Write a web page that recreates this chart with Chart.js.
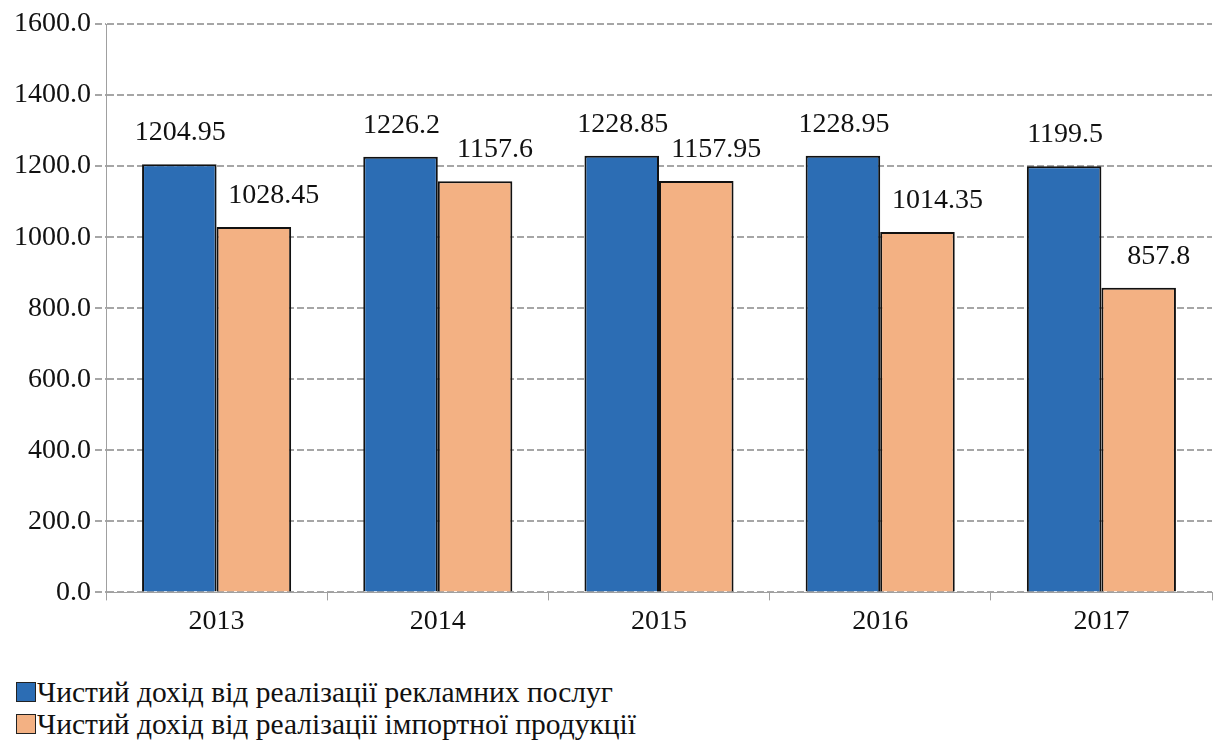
<!DOCTYPE html>
<html>
<head>
<meta charset="utf-8">
<script src="https://cdn.jsdelivr.net/npm/chart.js@4/dist/chart.umd.min.js"></script>
<style>
  body { margin: 0; background: #fff; font-family: "Liberation Serif", "Times New Roman", serif; }
  #wrap { position: relative; width: 1213px; height: 660px; }
  #legend { margin-left: 16px; margin-top: 16px; font-size: 29.5px; color: #111; line-height: 32px; }
  .item { display: flex; align-items: center; white-space: nowrap; }
  .box { width: 20px; height: 20px; border: 1.5px solid #222; margin-right: 1px; box-sizing: border-box; flex: none; }
</style>
</head>
<body>
<div id="wrap"><canvas id="chart"></canvas></div>
<div id="legend"></div>
<script>
// chart data
const years = ['2013', '2014', '2015', '2016', '2017'];
const adIncome = [1204.95, 1226.2, 1228.85, 1228.95, 1199.5];
const importIncome = [1028.45, 1157.6, 1157.95, 1014.35, 857.8];
const seriesNames = [
  'Чистий дохід від реалізації рекламних послуг',
  'Чистий дохід від реалізації імпортної продукції'
];
const colors = ['#2c6db4', '#f3b183'];
const serif = "'Liberation Serif', 'Times New Roman', serif";

// value labels above the bars
const valueLabels = {
  id: 'valueLabels',
  afterDatasetsDraw(chart) {
    const ctx = chart.ctx;
    ctx.save();
    ctx.font = '28px ' + serif;
    ctx.fillStyle = '#111';
    ctx.textAlign = 'center';
    ctx.textBaseline = 'alphabetic';
    chart.data.datasets.forEach((ds, i) => {
      chart.getDatasetMeta(i).data.forEach((bar, j) => {
        ctx.fillText(String(ds.data[j]), bar.x + (i === 1 ? 20 : 1), bar.y - 24);
      });
    });
    ctx.restore();
  }
};

new Chart(document.getElementById('chart'), {
  type: 'bar',
  data: {
    labels: years,
    datasets: [
      { label: seriesNames[0], data: adIncome, backgroundColor: colors[0], borderColor: '#111', borderWidth: 2 },
      { label: seriesNames[1], data: importIncome, backgroundColor: colors[1], borderColor: '#111', borderWidth: 2 }
    ]
  },
  options: {
    responsive: true,
    maintainAspectRatio: false,
    animation: false,
    layout: { padding: { top: 24, right: 1, left: 10, bottom: 18 } },
    datasets: { bar: { categoryPercentage: 0.674, barPercentage: 1.0 } },
    plugins: { legend: { display: false }, tooltip: { enabled: false } },
    scales: {
      x: {
        grid: { display: true, drawOnChartArea: false, offset: true, color: '#a0a0a0', tickLength: 8 },
        border: { color: '#a0a0a0' },
        ticks: { color: '#111', font: { family: serif, size: 28 }, padding: 4 }
      },
      y: {
        min: 0,
        max: 1600,
        ticks: {
          stepSize: 200,
          color: '#111',
          font: { family: serif, size: 28 },
          padding: 4,
          callback: v => v.toFixed(1)
        },
        grid: { color: '#a6a6a6', lineWidth: 2, tickLength: 11, tickBorderDash: [7, 3] },
        border: { color: '#a0a0a0', dash: [7, 3] }
      }
    }
  },
  plugins: [valueLabels]
});

// legend
const legend = document.getElementById('legend');
seriesNames.forEach((name, i) => {
  const row = document.createElement('div');
  row.className = 'item';
  row.innerHTML = '<span class="box" style="background:' + colors[i] + '"></span>' + name;
  legend.appendChild(row);
});
</script>
</body>
</html>
